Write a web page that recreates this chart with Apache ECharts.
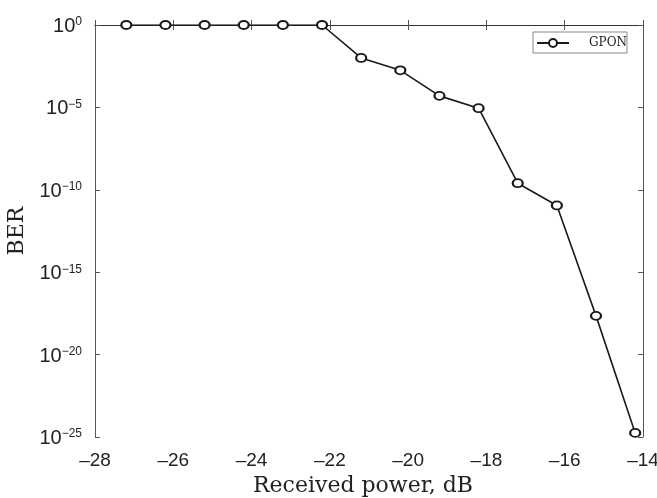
<!DOCTYPE html>
<html>
<head>
<meta charset="utf-8">
<script src="https://cdn.jsdelivr.net/npm/echarts@6/dist/echarts.min.js"></script>
<style>
  html, body { margin: 0; padding: 0; background: #fff; }
  #chart { width: 657px; height: 498px; }
</style>
</head>
<body>
<div id="chart"></div>
<script>
// received power (dB) and measured BER, stored as log10(BER)
const power = [-27.2, -26.2, -25.2, -24.2, -23.2, -22.2, -21.2, -20.2, -19.2, -18.2, -17.2, -16.2, -15.2, -14.2];
const berExp = [0, 0, 0, 0, 0, 0, -2.0, -2.75, -4.3, -5.05, -9.6, -10.95, -17.65, -24.75];
const seriesName = 'GPON';

const chart = echarts.init(document.getElementById('chart'), null, { renderer: 'canvas' });

const axisLine = { show: true, lineStyle: { color: '#555', width: 1 } };
const tickIn = { show: true, inside: true, length: 5, lineStyle: { color: '#555' } };

// y labels drawn as 10 with a superscript exponent
function expLabel(v) {
    const s = v < 0 ? '\u2212' + (-v) : String(v);
    return '{b|10}{s|' + s + '}';
}

chart.setOption({
    animation: false,
    backgroundColor: '#fff',
    grid: { left: 95, right: 14, top: 25, bottom: 61, containLabel: false, outerBoundsMode: 'none' },
    legend: {
        top: 32, right: 30,
        data: [seriesName],
        backgroundColor: '#fff',
        borderColor: '#888', borderWidth: 1, borderRadius: 0,
        padding: [5, 0, 4, 3],
        itemWidth: 32, itemHeight: 10, itemGap: 4,
        textStyle: { fontFamily: 'DejaVu Serif', fontSize: 12, color: '#222', padding: [0, 0, 0, 15] }
    },
    xAxis: [{
        type: 'value', min: -28, max: -14, interval: 2,
        position: 'bottom',
        axisLine: axisLine, axisTick: tickIn, splitLine: { show: false },
        axisLabel: {
            margin: 14, color: '#222', fontFamily: 'Liberation Sans', fontSize: 19,
            formatter: v => v < 0 ? '\u2013' + (-v) : String(v)
        },
        name: 'Received power, dB', nameLocation: 'middle', nameGap: 37,
        nameTextStyle: { fontFamily: 'DejaVu Serif', fontSize: 22, color: '#222', padding: [0, 12, 0, 0] }
    }, {
        type: 'value', min: -28, max: -14, interval: 2,
        position: 'top',
        axisLine: { show: true, lineStyle: { color: '#333' } }, axisTick: tickIn,
        axisLabel: { show: false }, splitLine: { show: false }
    }],
    yAxis: [{
        type: 'value', min: -25, max: 0, interval: 5,
        position: 'left',
        axisLine: axisLine, axisTick: tickIn, splitLine: { show: false },
        axisLabel: {
            margin: 13,
            formatter: expLabel,
            rich: {
                b: { fontFamily: 'Liberation Sans', fontSize: 20, lineHeight: 24, color: '#222', padding: [3, 0, 0, 0] },
                s: { fontFamily: 'Liberation Sans', fontSize: 12, lineHeight: 18, color: '#222', verticalAlign: 'top', padding: [3, 0, 0, 0] }
            }
        },
        name: 'BER', nameLocation: 'middle', nameGap: 44, nameRotate: 90,
        nameTextStyle: { fontFamily: 'DejaVu Serif', fontSize: 22, color: '#222' }
    }, {
        type: 'value', min: -25, max: 0, interval: 5,
        position: 'right',
        axisLine: axisLine, axisTick: tickIn,
        axisLabel: { show: false }, splitLine: { show: false }
    }],
    series: [{
        name: seriesName,
        type: 'line',
        xAxisIndex: 0, yAxisIndex: 0,
        data: power.map((p, i) => [p, berExp[i]]),
        symbol: 'emptyCircle',
        symbolSize: [10, 8],
        lineStyle: { color: '#1a1a1a', width: 1.6 },
        itemStyle: { color: '#1a1a1a', borderColor: '#1a1a1a', borderWidth: 1.8 }
    }]
});
</script>
</body>
</html>
